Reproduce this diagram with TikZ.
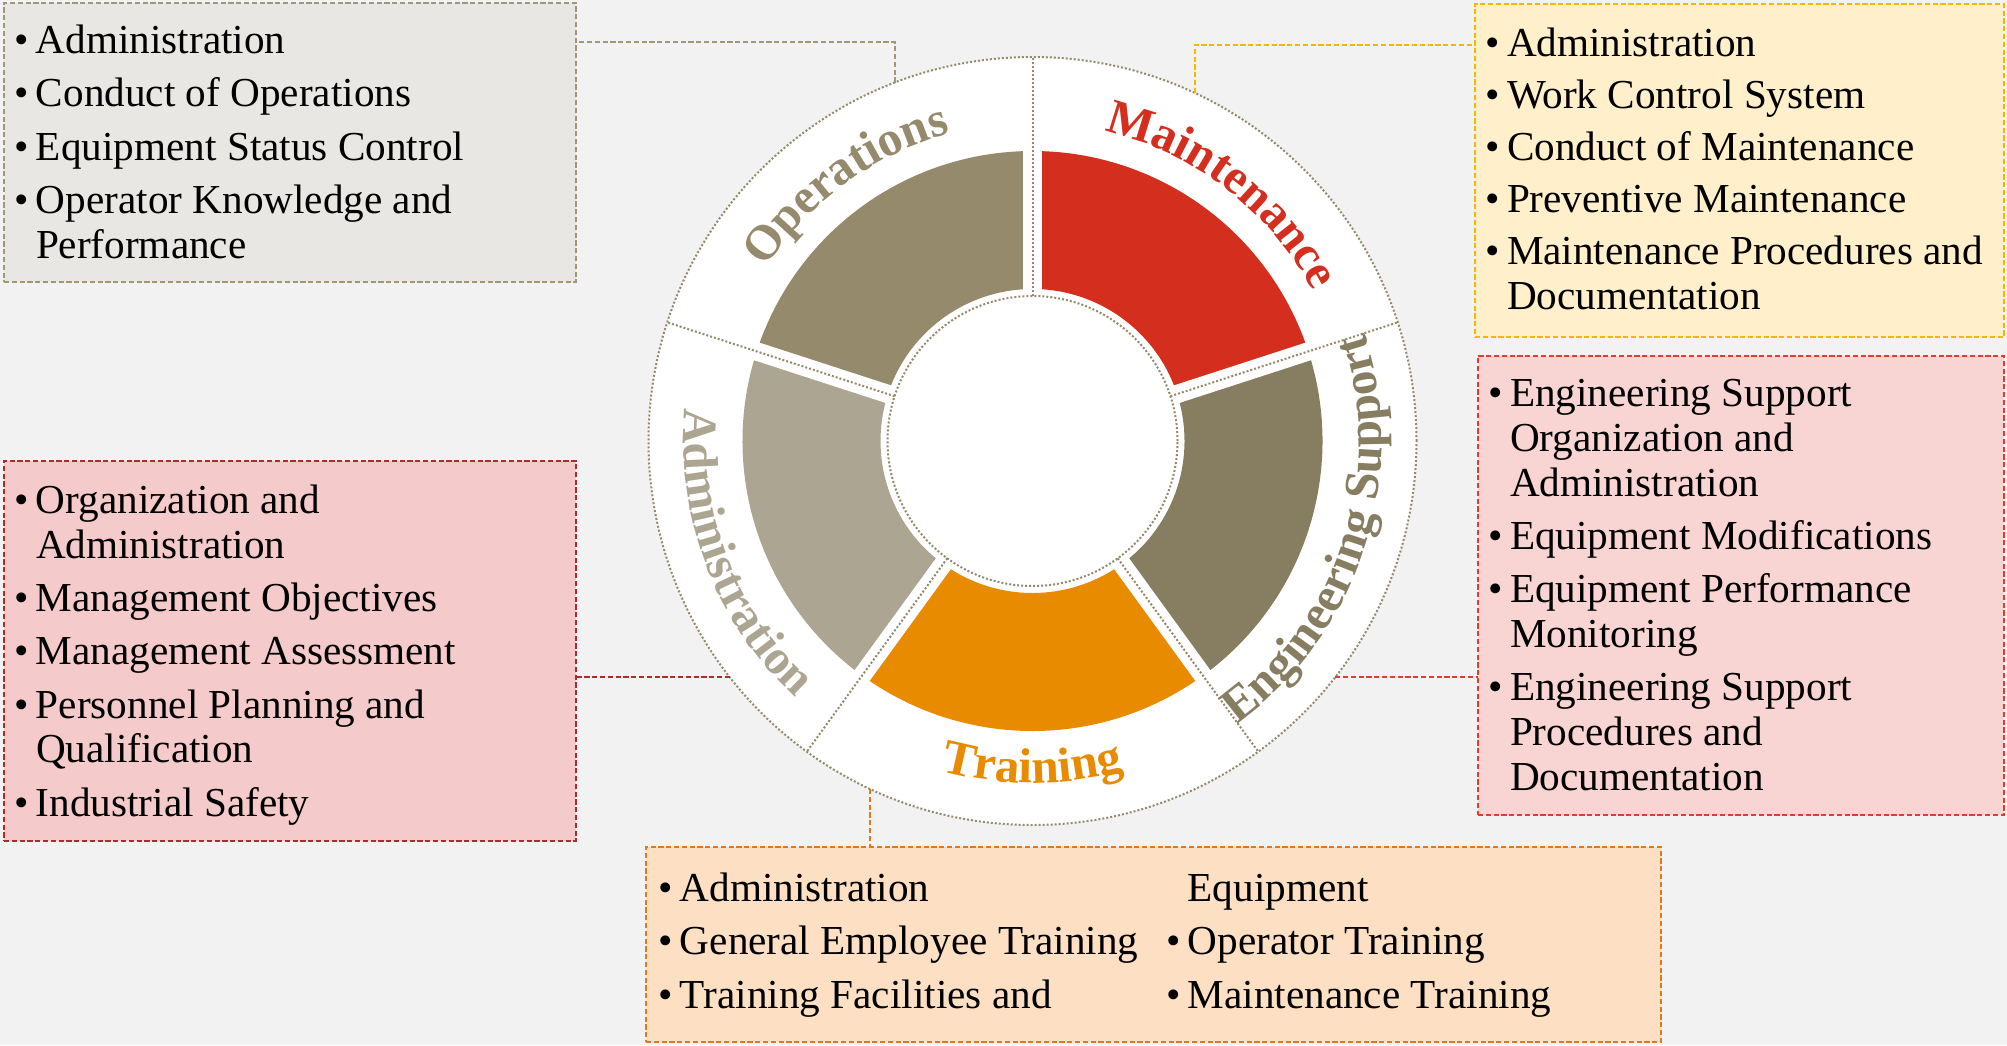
\documentclass[tikz,border=0pt]{standalone}
\usepackage{fontspec}
\setmainfont{Liberation Serif}
\usetikzlibrary{calc,decorations.text}

\definecolor{bgc}{HTML}{F2F2F2}
\definecolor{opsc}{HTML}{968A6C}
\definecolor{maintc}{HTML}{D42E1E}
\definecolor{engc}{HTML}{877E62}
\definecolor{trainc}{HTML}{E98B00}
\definecolor{adminc}{HTML}{ABA591}
\definecolor{opsfill}{HTML}{E8E7E3}
\definecolor{opsline}{HTML}{A09678}
\definecolor{maintfill}{HTML}{FFEFCB}
\definecolor{maintline}{HTML}{F5B800}
\definecolor{engfill}{HTML}{F8D5D2}
\definecolor{engline}{HTML}{E23B30}
\definecolor{adminfill}{HTML}{F4CACA}
\definecolor{adminline}{HTML}{B3282D}
\definecolor{trainfill}{HTML}{FDDFC4}
\definecolor{trainline}{HTML}{E0791A}

\newcommand{\labelfont}{\fontsize{24.5}{28}\selectfont\bfseries}
\newcommand{\listfont}{\fontsize{20.6}{22.4}\selectfont}

\tikzset{
  box/.style={draw=#1line, fill=#1fill, line width=1pt, dash pattern=on 2.6pt off 1.3pt,
    anchor=north west, inner sep=0pt, outer sep=0pt},
  link/.style={draw=#1line, line width=1pt, dash pattern=on 2.6pt off 1.3pt},
  listtext/.style={anchor=north west, inner sep=0pt, font=\listfont},
  dotline/.style={draw=opsc, line width=1pt, dash pattern=on 1pt off 1pt},
  arclabel/.style 2 args={decorate, decoration={text along path, text align=center,
    text color=#1, text={|\labelfont|#2}}}
}

\begin{document}
\begin{tikzpicture}[x=0.5pt,y=0.5pt]
\useasboundingbox (0,0) rectangle (2007,-1045);
\fill[bgc] (0,0) rectangle (2007,-1045);

% boxes
\node[box=ops, minimum width=286pt, minimum height=139.5pt] (opsbox) at (4,-3) {};
\node[box=maint, minimum width=264.5pt, minimum height=166.5pt] (maintbox) at (1475,-4) {};
\node[box=eng, minimum width=263pt, minimum height=229.5pt] (engbox) at (1478,-356) {};
\node[box=admin, minimum width=286pt, minimum height=190pt] (adminbox) at (4,-461) {};
\node[box=train, minimum width=507.5pt, minimum height=97.5pt] (trainbox) at (646,-847) {};

\node[listtext] (opstext) at ($(opsbox.north west)+(10,-19)$) {%
\begin{tabular}{@{}l@{\hspace{3.6pt}}l@{}}
\textbullet & Administration\\[4.2pt]
\textbullet & Conduct of Operations\\[4.2pt]
\textbullet & Equipment Status Control\\[4.2pt]
\textbullet & Operator Knowledge and\\
 & Performance
\end{tabular}};

\node[listtext] (mainttext) at ($(maintbox.north west)+(10,-21)$) {%
\begin{tabular}{@{}l@{\hspace{3.6pt}}l@{}}
\textbullet & Administration\\[3.6pt]
\textbullet & Work Control System\\[3.6pt]
\textbullet & Conduct of Maintenance\\[3.6pt]
\textbullet & Preventive Maintenance\\[3.6pt]
\textbullet & Maintenance Procedures and\\
 & Documentation
\end{tabular}};

\node[listtext] (engtext) at ($(engbox.north west)+(10,-19)$) {%
\begin{tabular}{@{}l@{\hspace{3.6pt}}l@{}}
\textbullet & Engineering Support\\
 & Organization and\\
 & Administration\\[4.2pt]
\textbullet & Equipment Modifications\\[4.2pt]
\textbullet & Equipment Performance\\
 & Monitoring\\[4.2pt]
\textbullet & Engineering Support\\
 & Procedures and\\
 & Documentation
\end{tabular}};

\node[listtext] (admintext) at ($(adminbox.north west)+(10,-21)$) {%
\begin{tabular}{@{}l@{\hspace{3.6pt}}l@{}}
\textbullet & Organization and\\
 & Administration\\[4.2pt]
\textbullet & Management Objectives\\[4.2pt]
\textbullet & Management Assessment\\[4.2pt]
\textbullet & Personnel Planning and\\
 & Qualification\\[4.2pt]
\textbullet & Industrial Safety
\end{tabular}};

\node[listtext] (traintext) at ($(trainbox.north west)+(12,-23)$) {%
\begin{tabular}{@{}l@{\hspace{3.6pt}}p{243pt}@{}l@{\hspace{3.6pt}}l@{}}
\textbullet & Administration & & Equipment\\[4.2pt]
\textbullet & General Employee Training & \textbullet & Operator Training\\[4.2pt]
\textbullet & Training Facilities and & \textbullet & Maintenance Training
\end{tabular}};

% wheel
\node[circle, fill=white, dotline, minimum size=384pt, inner sep=0pt, outer sep=0pt] (wheel) at (1032.5,-441) {};

\draw[link=ops] (wheel.111.5) |- ($(opsbox.north east)+(0,-39)$);
\draw[link=maint] (wheel.65.3) |- ($(maintbox.north west)+(0,-41)$);
\draw[link=eng] (wheel.-38.9) -- (wheel.-38.9 -| engbox.west);
\draw[link=admin] (wheel.218.8) -- (wheel.218.8 -| adminbox.east);
\draw[link=train] (wheel.245.5) -- (wheel.245.5 |- trainbox.north);

\begin{scope}[shift={(wheel.center)}]
\foreach \a/\col in {18/maintc,90/opsc,162/adminc,234/trainc,306/engc}
  \fill[\col] (\a:152) arc[start angle=\a, delta angle=72, radius=152]
    -- (\a+72:290) arc[start angle=\a+72, delta angle=-72, radius=290] -- cycle;
\foreach \a in {18,90,162,234,306}
  \draw[white, line width=9.2pt] (\a:140) -- (\a:297);
\draw[dotline, fill=white] (0,0) circle[radius=145];
\foreach \a in {18,90,162,234,306}
  \draw[dotline] (\a:145) -- (wheel.\a);

% labels round the ring
\path[arclabel={opsc}{Operations}] (171:318) arc[start angle=171, end angle=81, radius=318];
\path[arclabel={maintc}{Maintenance}] (97.5:318) arc[start angle=97.5, end angle=7.5, radius=318];
\path[arclabel={adminc}{Administration}] (156:349) arc[start angle=156, end angle=246, radius=349];
\path[arclabel={trainc}{Training}] (225:342) arc[start angle=225, end angle=315, radius=342];
\path[arclabel={engc}{Engineering Support}] (297:349) arc[start angle=297, end angle=387, radius=349];
\end{scope}
\end{tikzpicture}
\end{document}
